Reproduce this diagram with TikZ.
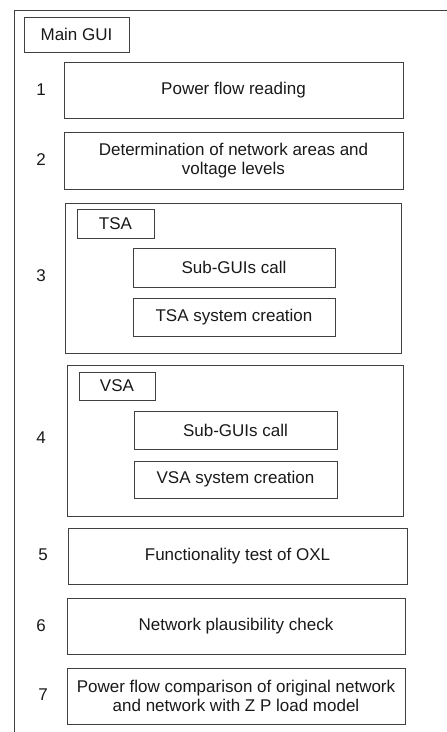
\documentclass[tikz,border=0pt]{standalone}
\usepackage{fontspec}
\setmainfont{Liberation Sans}
\usetikzlibrary{fit}

\begin{document}
\begin{tikzpicture}[x=1pt, y=-1pt, align=center, font=\fontsize{17}{19}\selectfont, text=black!90,
			box/.style={draw=black!75, line width=0.9pt, inner sep=0pt},
			every label/.style={align=center, inner sep=0pt},
			num/.style={inner sep=0pt}]
			\useasboundingbox (0,0) rectangle (447,732);
			\clip (0,0) rectangle (447,732);
			
			\draw[black!75, line width=0.9pt] (14,750) |- (470,10);
			\node[box, fit = {(24,17) (129,52)}, label=center:Main GUI] (gui-fit) {};
			
			\node[box, fit = {(64,62) (403,118)}, label=center:Power flow reading] (1-fit) {};
			\node[box, fit = {(64,132) (403,189)}, label=center:{Determination of network areas and\\voltage levels}] (2-fit) {};
			
			\node[box, fit = {(65,203) (401,353)}] (3-fit) {};
			\node[box, fit = {(77,209) (154,238)}, label=center:TSA] (tsa) {};
			\node[box, fit = {(133,248) (335,287)}, label=center:Sub-GUIs call] (tsa-call) {};
			\node[box, fit = {(133,298) (335,336)}, label=center:TSA system creation] (tsa-sys) {};
			
			\node[box, fit = {(67,365) (403,516)}] (4-fit) {};
			\node[box, fit = {(79,372) (155,400)}, label=center:VSA] (vsa) {};
			\node[box, fit = {(134,411) (337,449)}, label=center:Sub-GUIs call] (vsa-call) {};
			\node[box, fit = {(134,461) (337,498)}, label=center:VSA system creation] (vsa-sys) {};
			
			\node[box, fit = {(68,528) (407,584)}, label=center:Functionality test of OXL] (5-fit) {};
			\node[box, fit = {(67,598) (405,654)}, label=center:Network plausibility check] (6-fit) {};
			\node[box, fit = {(67,668) (405,724)}, label=center:{Power flow comparison of original network\\and network with Z P load model}] (7-fit) {};
			
			\node[num] (1-num) at (41,90) {1};
			\node[num] (2-num) at (41,160) {2};
			\node[num] (3-num) at (41,276) {3};
			\node[num] (4-num) at (41,438) {4};
			\node[num] (5-num) at (43,555) {5};
			\node[num] (6-num) at (41,626) {6};
			\node[num] (7-num) at (43,695) {7};
		\end{tikzpicture}
\end{document}
